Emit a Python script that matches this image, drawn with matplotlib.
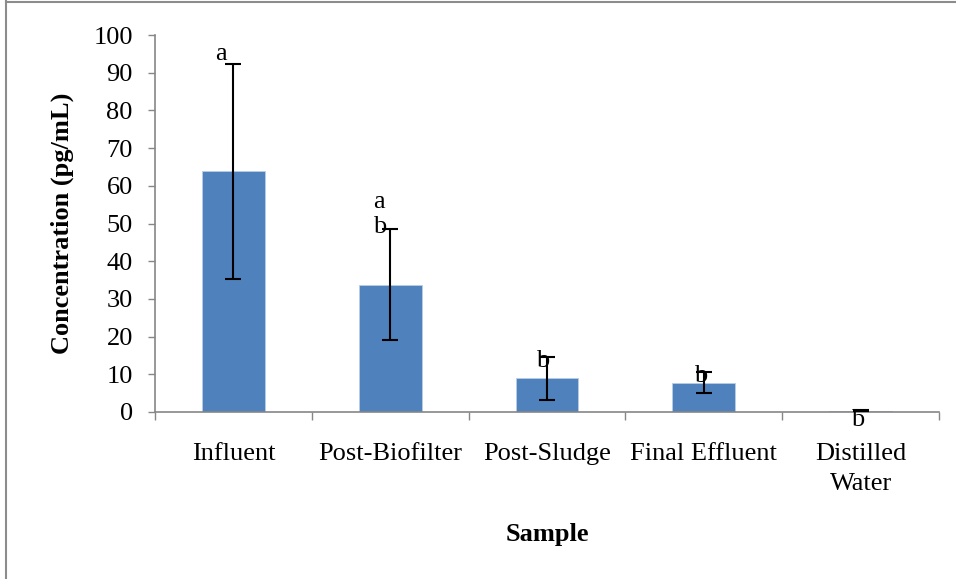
import matplotlib
matplotlib.use("Agg")
import matplotlib.pyplot as plt
from matplotlib.lines import Line2D
import numpy as np

categories = ["Influent", "Post-Biofilter", "Post-Sludge", "Final Effluent", "Distilled\nWater"]
means = [63.8, 33.8, 8.9, 7.8, 0.3]
errors = [28.6, 14.8, 5.8, 2.8, 0.1]
y_ticks = [0, 10, 20, 30, 40, 50, 60, 70, 80, 90, 100]

# significance letters: (category index, x offset, y position, letter)
letters = [
    (0, -0.08, 95.0, "a"),
    (1, -0.07, 55.7, "a"),
    (1, -0.07, 49.0, "b"),
    (2, -0.03, 13.6, "b"),
    (3, -0.02, 9.6, "b"),
    (4, -0.02, -2.2, "b"),
]

plt.rcParams["font.family"] = ["Liberation Serif", "DejaVu Serif"]
FS = 19

W, H = 956, 579
fig = plt.figure(figsize=(W / 100, H / 100), dpi=100)
ax = fig.add_axes([155 / W, 1 - 412 / H, (939 - 155) / W, (412 - 35) / H])

x = np.arange(len(categories))
ax.bar(x, means, width=0.4, color="#4F81BD", edgecolor="#B9CDE5", linewidth=0.6, zorder=2)
ax.errorbar(x, means, yerr=errors, fmt="none", ecolor="black", elinewidth=1.5,
            capsize=5.5, capthick=1.5, zorder=3)

for i, dx, yv, s in letters:
    ax.text(i + dx, yv, s, ha="center", va="center", fontsize=FS, zorder=4)

ax.set_xlim(-0.5, len(categories) - 0.5)
ax.set_ylim(0, 100)
ax.set_yticks(y_ticks)
ax.set_xticks(x)
ax.set_xticklabels(categories, fontsize=FS, linespacing=1.5)
ax.set_xticks(np.arange(-0.5, len(categories)), minor=True)
ax.tick_params(axis="x", which="major", length=0, pad=22)
ax.tick_params(axis="x", which="minor", length=6, width=1, color="#868686", direction="out")
ax.tick_params(axis="y", length=5, width=1, color="#868686", labelsize=FS, pad=11)

for side in ("top", "right"):
    ax.spines[side].set_visible(False)
for side in ("left", "bottom"):
    ax.spines[side].set_color("#868686")
    ax.spines[side].set_linewidth(1.2)

ax.set_ylabel("Concentration (pg/mL)", fontsize=FS, fontweight="bold", labelpad=14)
ax.set_xlabel("Sample", fontsize=FS, fontweight="bold", labelpad=20)

# outer frame edges
fig.add_artist(Line2D([6 / W, 6 / W], [0, 1 - 1 / H], transform=fig.transFigure,
                      color="#8C8C8C", linewidth=1.5))
fig.add_artist(Line2D([6 / W, 1], [1 - 1.5 / H, 1 - 1.5 / H], transform=fig.transFigure,
                      color="#8C8C8C", linewidth=1.5))

fig.savefig("out.png", dpi=100)
